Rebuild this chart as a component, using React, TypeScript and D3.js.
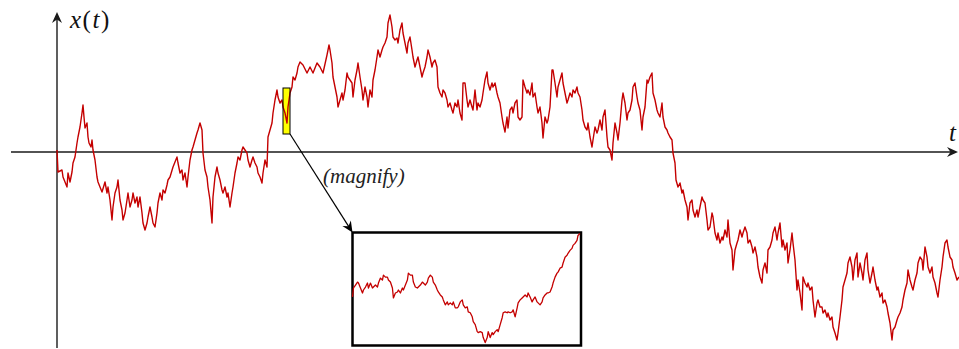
import React from "react";
import * as d3 from "d3";

// Main sample path: [t (ms), x (mm)]
const mainPath: [number, number][] = [
  [0,2],[1,-20],[5,-18],[6,-25],[8,-30],[10,-35],[11,-21],[13,-30],[15,-20],[16,-11],[18,-5],[20,9],[21,15],[23,25],[25,39],[26,47],[27,35],[28,24],[30,29],[31,15],[32,9],[34,5],[35,12],[36,2],[38,-8],[40,-25],[41,-30],[43,-35],[45,-40],[48,-30],[50,-41],[51,-35],[53,-48],[55,-68],[56,-55],[58,-41],[60,-35],[61,-28],[63,-48],[65,-58],[66,-68],[68,-61],[70,-48],[71,-41],[73,-55],[75,-48],[76,-41],[78,-51],[80,-45],[81,-55],[83,-45],[85,-61],[86,-71],[88,-78],[90,-71],[91,-65],[93,-55],[95,-65],[96,-71],[98,-75],[100,-61],[101,-51],[103,-41],[105,-48],[106,-38],[108,-41],[110,-33],[111,-28],
  [113,-25],[116,-15],[120,-5],[121,-11],[123,-21],[125,-18],[126,-28],[128,-21],[130,-35],[131,-25],[133,-8],[135,2],[136,5],[138,12],[140,19],[141,22],[143,29],[145,22],[146,-1],[148,-18],[150,-25],[151,-35],[153,-48],[155,-71],[156,-45],[158,-25],[160,-15],[161,-21],[163,-28],[165,-38],[166,-41],[168,-35],[170,-45],[171,-41],[173,-55],[175,-41],[176,-35],[178,-21],[180,-11],[181,-5],[183,-8],[185,2],[186,5],[188,2],[190,-1],[191,-8],[193,-15],[195,-8],[196,-5],[198,-11],[200,-15],[201,-21],[203,-25],[205,-31],[206,-21],[208,-8],[210,-15],[211,15],[213,22],[215,29],[216,39],[218,52],[220,62],[221,55],[223,49],[225,52],[226,45],[228,39],[230,29],[231,45],[233,59],[235,65],[236,75],[238,72],[240,79],[241,85],[243,90],[246,87],[250,79],[253,85],[256,79],[260,89],[263,85],[266,79],[270,97],[272,107],[273,102],
  [275,89],[276,75],[278,65],[280,55],[281,45],[283,52],[285,59],[286,52],[288,62],[290,79],[291,75],[293,72],[295,69],[296,55],[298,72],[300,82],[301,89],[303,75],[305,62],[306,52],[308,65],[310,55],[311,45],[313,62],[315,55],[316,72],[318,82],[320,95],[321,102],[323,95],[325,102],[326,105],[328,109],[330,115],[331,129],[333,137],[335,125],[336,115],[338,112],[340,114],[341,109],[343,122],[345,129],[346,119],[348,109],[350,99],[351,109],[353,115],[355,102],[356,95],[358,85],[360,92],[361,95],[363,85],[365,75],[366,79],[368,85],[370,95],[371,102],[373,95],[375,85],[376,89],[378,92],[380,85],[381,65],[383,59],[385,55],[386,62],[388,59],[390,52],[391,45],[393,49],[395,42],[396,39],[398,49],[400,45],[401,52],[403,39],[405,32],[406,69],[408,69],[410,52],[411,45],[413,52],[415,45],[416,42],[418,62],[420,42],[421,49],[423,45],[425,52],[426,59],[428,72],[430,80],[431,69],[433,62],
  [435,69],[436,65],[438,69],[440,59],[441,55],[443,49],[445,35],[446,29],[448,20],[450,35],[451,24],[453,42],[455,45],[456,39],[458,49],[460,52],[461,35],[463,32],[465,35],[466,72],[468,65],[470,59],[471,62],[473,57],[475,69],[476,55],[478,59],[480,45],[481,39],[483,45],[485,29],[486,14],[488,35],[490,29],[491,32],[493,45],[495,82],[496,82],[498,69],[500,55],[501,65],[503,72],[505,79],[506,69],[508,59],[510,49],[511,52],[513,59],[515,55],[516,62],[518,59],[520,65],[521,59],[523,55],[525,42],[526,32],[528,25],[530,22],[531,29],[533,15],[535,5],[536,12],[538,25],[540,19],[541,22],[543,32],[545,22],[546,35],[548,42],[550,15],[551,5],[553,2],[555,-8],[556,9],[558,29],[560,19],[561,12],[563,29],[565,52],[566,59],[568,49],[570,32],[571,39],[573,42],[575,52],[576,65],[578,69],[580,55],[581,49],[583,42],[585,22],[586,35],[588,45],[590,72],[591,69],[593,75],[595,79],[596,59],[598,52],[600,42],[601,39],[603,35],[605,49],[606,35],[608,25],[610,22],[611,19],[613,15],[615,12],[616,-1],
  [618,-11],[619,-28],[621,-35],[623,-31],[625,-41],[626,-38],[628,-48],[630,-55],[631,-68],[633,-51],[635,-48],[636,-58],[638,-65],[640,-58],[641,-65],[643,-55],[645,-45],[646,-48],[648,-51],[650,-68],[651,-78],[653,-75],[655,-61],[656,-65],[658,-81],[660,-88],[661,-81],[663,-91],[665,-85],[666,-88],[668,-78],[670,-85],[671,-68],[673,-91],[675,-98],[676,-118],[678,-98],[680,-91],[681,-88],[683,-78],[685,-85],[686,-81],[688,-75],[690,-81],[691,-91],[693,-88],[695,-95],[696,-101],[698,-95],[700,-105],[701,-115],[703,-125],[705,-131],[706,-118],[708,-111],[710,-121],[711,-98],[713,-95],[715,-88],[716,-81],[718,-75],[720,-88],[721,-81],[723,-71],[725,-95],[726,-88],[728,-98],[730,-91],[731,-111],[733,-98],[735,-81],[736,-91],[738,-108],[740,-138],[741,-128],[743,-141],[745,-158],[746,-125],[748,-131],[750,-135],[751,-131],[753,-138],[755,-135],[756,-148],[758,-165],[760,-151],[761,-148],[763,-155],
  [765,-155],[766,-161],[768,-158],[770,-165],[771,-161],[773,-168],[775,-165],[776,-175],[778,-181],[780,-188],[781,-181],[783,-165],[785,-148],[786,-135],[788,-128],[790,-121],[791,-111],[793,-105],[795,-115],[796,-128],[798,-108],[800,-101],[801,-125],[803,-111],[805,-121],[806,-128],[808,-108],[810,-101],[811,-118],[813,-131],[815,-121],[816,-115],[818,-128],[820,-138],[821,-135],[823,-145],[825,-141],[826,-151],[828,-148],[830,-155],[831,-161],[833,-171],[835,-188],[836,-178],[838,-175],[840,-168],[841,-165],[843,-161],[845,-155],[846,-148],[848,-138],[850,-131],[851,-118],[853,-128],[855,-135],[856,-138],[858,-128],[860,-121],[861,-111],[863,-105],[865,-108],[866,-118],[868,-95],[870,-105],[871,-115],[873,-121],[875,-115],[876,-125],[878,-131],[880,-141],[881,-145],[883,-128],[885,-115],[886,-105],[888,-91],[890,-88],[891,-95],[893,-105],[895,-108],[896,-115],[898,-121],[900,-128],[902,-125]
];

// Magnified segment: [local t, local x]
const insetPath: [number, number][] = [
  [0,49],[1,58],[3,61],[5,64],[6,63],[8,58],[10,53],[11,56],[13,59],[15,63],[16,58],[18,63],[20,58],[21,59],[23,61],[25,59],[26,63],[28,68],[30,66],[31,71],[33,69],[35,69],[36,66],[38,64],[40,58],[41,48],[43,53],[45,54],[46,56],[48,53],[50,58],[51,56],[53,61],[55,66],[56,73],[58,71],[60,71],[61,64],[63,59],[65,58],[66,59],[68,61],[70,64],[71,63],[73,61],[75,64],[76,68],[78,71],[80,69],[81,64],[83,61],[85,56],[86,54],[88,51],[90,49],[91,46],[93,41],[95,44],[96,41],[98,43],[100,41],[101,44],[103,38],[105,38],[106,39],[108,44],[110,46],[111,41],[113,38],[115,39],[116,34],[118,33],[120,29],[121,24],[123,21],[125,14],[126,13],[128,14],[130,13],[131,8],[133,3],[135,8],[136,14],[138,8],[140,13],[141,11],[143,14],[145,16],[146,14],[148,21],[150,28],[151,33],[153,34],[155,33],[156,34],[158,33],[160,34],[161,36],[163,29],[165,38],[166,43],[168,46],[170,48],[171,49],[173,51],[175,49],[176,53],[178,49],[180,44],[181,46],[183,49],[185,44],[186,43],[188,41],[190,44],[191,48],[193,51],[195,53],[196,53],[198,54],[200,59],[201,63],[203,69],[205,73],[206,74],[208,78],[210,79],[211,83],[213,89],[215,91],[216,93],[218,96],[220,98],[221,101],[223,103],[225,106],[226,111],[228,113]
];

// Magnified window in data units: [t0, t1, x0, x1]
const magnifyWindow = [226, 233, 18, 64];
const insetDomainT = [0, 229];
const insetDomainX = [0, 114];

const axisLabelY = "x(t)";
const axisLabelX = "t";
const magnifyLabel = "(magnify)";

const W = 959;
const H = 349;
const RED = "#c40000";
const AX = "#1a1a1a";
const SERIF = "'Liberation Serif', 'Times New Roman', serif";

export default function App() {
  const xs = d3.scaleLinear().domain([0, 902]).range([57, 959]);
  const ys = d3.scaleLinear().domain([-196, 152]).range([348, 0]);

  const ixs = d3.scaleLinear().domain(insetDomainT).range([352.5, 581]);
  const iys = d3.scaleLinear().domain(insetDomainX).range([345.5, 232.5]);

  const line = d3
    .line<[number, number]>()
    .x((d) => xs(d[0]))
    .y((d) => ys(d[1]));
  const iline = d3
    .line<[number, number]>()
    .x((d) => ixs(d[0]))
    .y((d) => iys(d[1]));

  const y0 = ys(0);
  const x0 = xs(0);
  const [mt0, mt1, mx0, mx1] = magnifyWindow;
  const rx = xs(mt0);
  const rw = xs(mt1) - xs(mt0);
  const ry = ys(mx1);
  const rh = ys(mx0) - ys(mx1);

  const boxL = ixs(insetDomainT[0]);
  const boxR = ixs(insetDomainT[1]);
  const boxT = iys(insetDomainX[1]);
  const boxB = iys(insetDomainX[0]);

  const head = "M0,0 L-11,-5 L-7.5,0 L-11,5 Z";

  const sx = rx + rw;
  const sy = ry + rh;
  const ex = boxL;
  const ey = boxT;
  const a = Math.atan2(ey - sy, ex - sx);
  const ang = (a * 180) / Math.PI;

  return (
    <svg
      width={W}
      height={H}
      style={{ position: "absolute", left: 0, top: 0, background: "#fff" }}
    >
      {/* axes */}
      <line x1={11} y1={y0} x2={954} y2={y0} stroke={AX} strokeWidth={1.4} />
      <path d={head} transform={`translate(958,${y0})`} fill={AX} />
      <line x1={x0} y1={348} x2={x0} y2={16} stroke={AX} strokeWidth={1.4} />
      <path d={head} transform={`translate(${x0},12) rotate(-90)`} fill={AX} />

      <text x={70} y={28} fontFamily={SERIF} fontSize={25} fill="#111" letterSpacing={1.5}>
        <tspan fontStyle="italic">{axisLabelY[0]}</tspan>
        <tspan>{axisLabelY[1]}</tspan>
        <tspan fontStyle="italic">{axisLabelY[2]}</tspan>
        <tspan>{axisLabelY[3]}</tspan>
      </text>
      <text x={949} y={141} fontFamily={SERIF} fontStyle="italic" fontSize={25} fill="#111">
        {axisLabelX}
      </text>

      {/* magnify window */}
      <rect x={rx} y={ry} width={rw} height={rh} fill="#ffff00" stroke="none" />

      <path d={line(mainPath) || ""} fill="none" stroke={RED} strokeWidth={1.4} strokeLinejoin="round" />

      <rect x={rx} y={ry} width={rw} height={rh} fill="none" stroke="#000" strokeWidth={1} />

      {/* arrow */}
      <line x1={sx} y1={sy} x2={ex - 4 * Math.cos(a)} y2={ey - 4 * Math.sin(a)} stroke="#000" strokeWidth={1.2} />
      <path d={head} transform={`translate(${ex},${ey}) rotate(${ang})`} fill="#000" />

      <text x={323} y={183} fontFamily={SERIF} fontStyle="italic" fontSize={21} fill="#222">
        {magnifyLabel}
      </text>

      {/* inset */}
      <rect
        x={boxL}
        y={boxT}
        width={boxR - boxL}
        height={boxB - boxT}
        fill="#fff"
        stroke="#000"
        strokeWidth={2.5}
      />
      <path d={iline(insetPath) || ""} fill="none" stroke={RED} strokeWidth={1.3} strokeLinejoin="round" />
    </svg>
  );
}
